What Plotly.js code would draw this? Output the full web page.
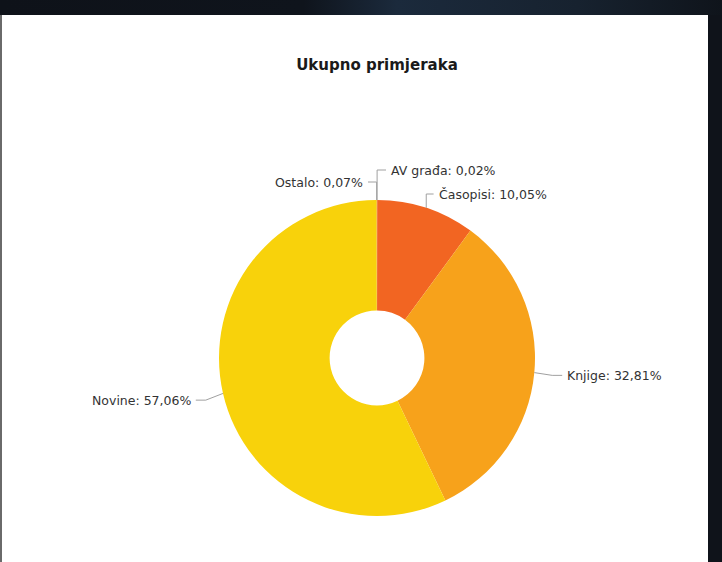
<!DOCTYPE html>
<html>
<head>
<meta charset="utf-8">
<script src="https://cdn.plot.ly/plotly-3.0.1.min.js"></script>
<style>
  html, body { margin: 0; padding: 0; width: 722px; height: 562px; overflow: hidden;
    background: linear-gradient(90deg, #0e1219 0%, #0f141c 42%, #1b2a3c 55%, #17222f 80%, #0f141b 100%); }
  #frame { position: absolute; left: 0; top: 15px; width: 722px; height: 547px; background: #0f131a; }
  #chart { position: absolute; left: 0; top: 0; width: 708px; height: 547px; background: #fff;
    box-shadow: inset 2px 0 0 #6a6a6a; }
</style>
</head>
<body>
<div id="frame"><div id="chart"></div></div>
<script>
// ---- data ----
const categories = ["AV građa", "Časopisi", "Knjige", "Novine", "Ostalo"];
const shares = [0.02, 10.05, 32.81, 57.06, 0.07];
const colors = ["#ee8a1c", "#f26522", "#f7a21b", "#f8d20b", "#f0b40c"];
const chartTitle = "Ukupno primjeraka";

// ---- layout geometry ----
const W = 708, H = 547;
const cx = 377, cy = 343, R = 158;      // pie centre / radius in px
const labelDist = 30, minGap = 12;
const labelFont = { family: "DejaVu Sans, Verdana, sans-serif", size: 12.5, color: "#333333" };

const px = x => x / W;
const py = y => 1 - y / H;

// mid-angles from data
const total = shares.reduce((a, b) => a + b, 0);
let acc = 0;
const items = shares.map((v, i) => {
  const mid = (acc + v / 2) / total * 2 * Math.PI; acc += v;
  const s = Math.sin(mid), c = Math.cos(mid);
  const dir = s >= 0 ? 1 : -1;
  return { i, dir, s, c,
    ex: cx + R * s, ey: cy - R * c,
    baseX: cx + (R + labelDist) * s,
    y: cy - (R + labelDist) * c };
});
// simple overlap avoidance: sort by y and keep a minimum gap
const sorted = items.slice().sort((a, b) => a.y - b.y || a.i - b.i);
for (let k = 1; k < sorted.length; k++) {
  if (sorted[k].y - sorted[k - 1].y < minGap) sorted[k].y = sorted[k - 1].y + minGap;
}

const fmt = v => v.toFixed(2).replace(".", ",") + "%";
const annotations = [];
const shapes = [];
items.forEach(it => {
  const lx = cx + it.dir * Math.max(Math.abs(it.baseX - cx), 11) + it.dir * 1;
  annotations.push({
    xref: "paper", yref: "paper", x: px(lx), y: py(it.y),
    xanchor: it.dir > 0 ? "left" : "right", yanchor: "middle",
    text: categories[it.i] + ": " + fmt(shares[it.i]),
    showarrow: false, font: labelFont
  });
  const endX = lx - it.dir * 3;
  const k = Math.max(0, Math.abs(endX - it.ex) - 10);
  const bx = it.ex + it.dir * k;
  const path = `M ${px(it.ex)} ${py(it.ey)} L ${px(bx)} ${py(it.y)} L ${px(endX)} ${py(it.y)}`;
  shapes.push({ type: "path", xref: "paper", yref: "paper", path,
    line: { color: "#a0a0a0", width: 1 } });
});

const trace = {
  type: "pie",
  labels: categories,
  values: shares,
  sort: false,
  direction: "clockwise",
  rotation: 0,
  hole: 0.3,
  textinfo: "none",
  hoverinfo: "label+percent",
  marker: { colors: colors, line: { color: "#ffffff", width: 0 } },
  domain: { x: [px(cx - R), px(cx + R)], y: [py(cy + R), py(cy - R)] },
  showlegend: false
};

const layout = {
  width: W, height: H,
  margin: { l: 0, r: 0, t: 0, b: 0 },
  paper_bgcolor: "rgba(0,0,0,0)",
  title: { text: "<b>" + chartTitle + "</b>", x: px(cx), xanchor: "center",
    y: py(50), yref: "container", yanchor: "middle",
    font: { family: "DejaVu Sans, sans-serif", size: 15, color: "#1a1a1a" } },
  annotations, shapes,
  showlegend: false
};

Plotly.newPlot("chart", [trace], layout, { displayModeBar: false, staticPlot: true });
</script>
</body>
</html>
